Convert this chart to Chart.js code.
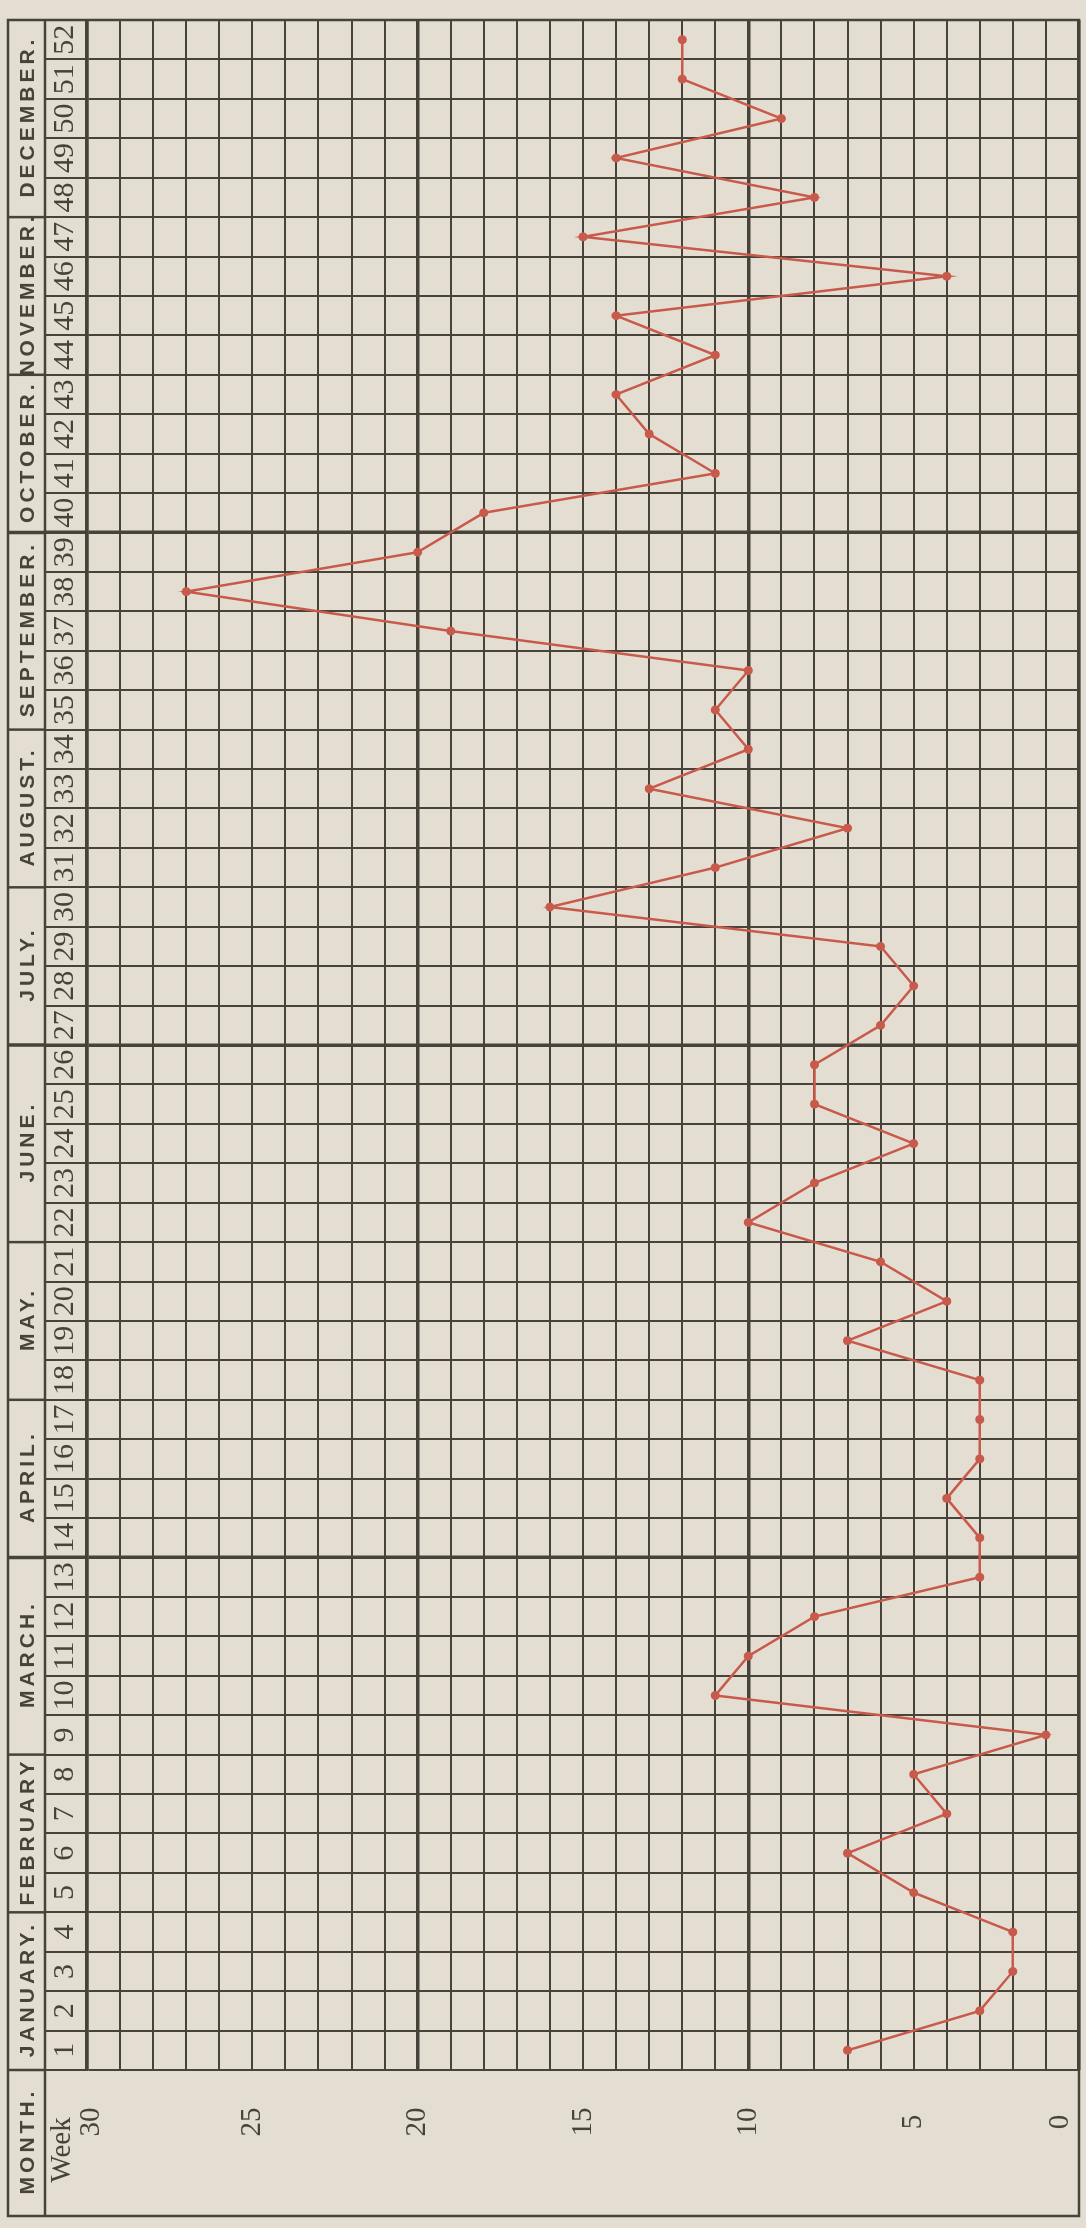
<!DOCTYPE html>
<html>
<head>
<meta charset="utf-8">
<script src="https://cdn.jsdelivr.net/npm/chart.js@4.4.0/dist/chart.umd.min.js"></script>
<style>
  html, body { margin: 0; padding: 0; background: #e3ded1; }
  body { width: 1086px; height: 2228px; overflow: hidden; position: relative; }
  /* chart is drawn landscape, then turned a quarter anticlockwise like the printed page */
  #turn {
    position: absolute; left: 0; top: 0;
    width: 2228px; height: 1086px;
    transform-origin: 0 0;
    transform: translate(0, 2228px) rotate(-90deg);
  }
</style>
</head>
<body>
<div id="turn"><canvas id="chart" width="2228" height="1086"></canvas></div>
<script>
const WEEKS = [
  '1', '2', '3', '4', '5', '6', '7', '8', '9', '10', '11', '12', '13',
  '14', '15', '16', '17', '18', '19', '20', '21', '22', '23', '24', '25', '26',
  '27', '28', '29', '30', '31', '32', '33', '34', '35', '36', '37', '38', '39',
  '40', '41', '42', '43', '44', '45', '46', '47', '48', '49', '50', '51', '52',
]
const MONTHS = [
  'JANUARY.', 'FEBRUARY', 'MARCH.', 'APRIL.', 'MAY.', 'JUNE.',
  'JULY.', 'AUGUST.', 'SEPTEMBER.', 'OCTOBER.', 'NOVEMBER.', 'DECEMBER.',
]
const MONTH_WEEKS = [4, 4, 5, 4, 4, 5, 4, 4, 5, 4, 4, 5]
const CASES = [
  7, 3, 2, 2, 5, 7, 4, 5, 1, 11, 10, 8, 3,
  3, 4, 3, 3, 3, 7, 4, 6, 10, 8, 5, 8, 8,
  6, 5, 6, 16, 11, 7, 13, 10, 11, 10, 19, 27, 20,
  18, 11, 13, 14, 11, 14, 4, 15, 8, 14, 9, 12, 12,
]
const VALUE_TICKS = [0, 5, 10, 15, 20, 25, 30]
const QUARTER_LINES = [13, 26, 39]

const INK = '#47433b'
const RED = '#c85a4c'

// month row, corner cell and value labels, placed with the chart's own scales
const headerPlugin = {
  id: 'header',
  afterDraw(chart) {
    const { ctx, chartArea: a, scales: { x, y } } = chart
    const L = 12, T = 8, MID = 45
    ctx.save()
    ctx.strokeStyle = INK
    ctx.lineWidth = 2.5
    ctx.strokeRect(L, T, a.right - L, a.bottom - T)
    ctx.beginPath()
    ctx.moveTo(L, MID)
    ctx.lineTo(a.right, MID)
    ctx.stroke()

    ctx.fillStyle = INK
    ctx.textAlign = 'center'
    ctx.textBaseline = 'middle'
    ctx.font = 'bold 21px "Liberation Sans", Arial, sans-serif'
    ctx.letterSpacing = '4px'

    let w = 0
    MONTHS.forEach((name, i) => {
      const left = x.getPixelForValue(w - 0.5)
      w += MONTH_WEEKS[i]
      const right = x.getPixelForValue(w - 0.5)
      ctx.lineWidth = QUARTER_LINES.includes(w - MONTH_WEEKS[i]) ? 3.5 : 2.5
      ctx.beginPath()
      ctx.moveTo(left, T)
      ctx.lineTo(left, MID)
      ctx.stroke()
      ctx.fillText(name, (left + right) / 2 + 2, 28)
    })
    ctx.fillText('MONTH.', (L + a.left) / 2 + 2, 28)

    ctx.letterSpacing = '0px'
    ctx.font = '29px "Liberation Serif", "Times New Roman", serif'
    ctx.fillText('Week', 78, 62)
    VALUE_TICKS.forEach(v => {
      const py = Math.min(Math.max(y.getPixelForValue(v), a.top + 4), a.bottom - 19)
      ctx.fillText(String(v), 106, py)
    })
    ctx.restore()
  },
}

new Chart(document.getElementById('chart'), {
  type: 'line',
  data: {
    labels: WEEKS,
    datasets: [{
      data: CASES,
      borderColor: RED,
      backgroundColor: RED,
      borderWidth: 2.5,
      pointRadius: 4.5,
      pointBorderWidth: 0,
      pointBackgroundColor: RED,
      tension: 0,
    }],
  },
  options: {
    responsive: false,
    animation: false,
    layout: { padding: { left: 12, top: 8, right: 20, bottom: 7 } },
    plugins: { legend: { display: false }, tooltip: { enabled: false } },
    scales: {
      x: {
        type: 'category',
        position: 'top',
        offset: true,
        grid: {
          offset: true,
          color: INK,
          lineWidth: c => (QUARTER_LINES.includes(c.index) ? 3.5 : 2),
          tickLength: 42,
        },
        border: { display: true, color: INK, width: 2.5 },
        ticks: {
          autoSkip: false,
          maxRotation: 0,
          minRotation: 0,
          padding: -35,
          color: INK,
          font: { family: '"Liberation Serif", "Times New Roman", serif', size: 30, lineHeight: 1 },
        },
        afterFit: s => { s.height = 79 },
      },
      y: {
        min: 0,
        max: 30,
        ticks: { stepSize: 1, display: false },
        grid: {
          color: INK,
          lineWidth: c => (c.tick && c.tick.value % 10 === 0 ? 3.5 : 2),
          drawTicks: false,
        },
        border: { display: false },
        afterFit: s => { s.width = 146 },
      },
    },
  },
  plugins: [headerPlugin],
})
</script>
</body>
</html>
